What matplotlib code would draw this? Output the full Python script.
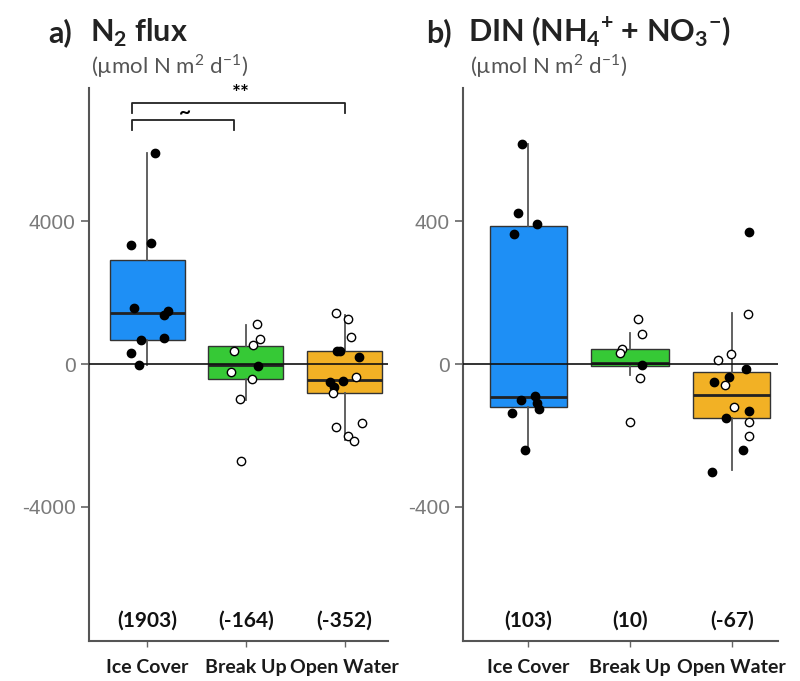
import matplotlib
matplotlib.use("Agg")
import matplotlib.pyplot as plt
import matplotlib.transforms as mtransforms

plt.rcParams["font.family"] = ["Lato", "DejaVu Sans"]
plt.rcParams["mathtext.fontset"] = "custom"
plt.rcParams["mathtext.rm"] = "Lato"
plt.rcParams["mathtext.bf"] = "Lato:bold"

CATEGORIES = ["Ice Cover", "Break Up", "Open Water"]
BOX_COLORS = ["#1E8FF5", "#36C936", "#F2B125"]

# ---- panel a: N2 flux ----
N2_Q1 = [670, -420, -810]
N2_MED = [1430, -30, -450]
N2_Q3 = [2910, 500, 365]
N2_WLO = [-30, -1000, -2130]
N2_WHI = [5900, 1090, 1370]
N2_MEANS = ["(1903)", "(-164)", "(-352)"]
N2_PTS = [
    [5900, 3330, 3385, 1566, 1482, 1370, 671, 727, 308, -28],
    [1119, 699, 531, 363, -224, -56, -420, -979, -2713],
    [1426, 1258, 755, 364, 364, 196, -363, -503, -475, -643, -811, -1762, -1650, -2013, -2153],
]
N2_JIT = [
    [0.08, -0.16, 0.04, -0.13, 0.21, 0.17, -0.06, 0.17, -0.16, -0.08],
    [0.11, 0.14, 0.07, -0.12, -0.15, 0.12, 0.06, -0.06, -0.05],
    [-0.09, 0.03, 0.07, -0.08, -0.05, 0.15, 0.12, -0.15, -0.02, -0.11, -0.12, -0.09, 0.18, 0.03, 0.10],
]
N2_FILLED = [
    [1] * 10,
    [0, 0, 0, 0, 0, 1, 0, 0, 0],
    [0, 0, 0, 1, 1, 1, 0, 1, 1, 1, 0, 0, 0, 0, 0],
]

# ---- panel b: DIN ----
DIN_Q1 = [-120, -6, -151]
DIN_MED = [-92, 3, -87]
DIN_Q3 = [386, 42, -22]
DIN_WLO = [-240, -31, -296]
DIN_WHI = [615, 87, 143]
DIN_MEANS = ["(103)", "(10)", "(-67)"]
DIN_PTS = [
    [615, 422, 392, 364, -101, -89, -109, -126, -137, -240],
    [126, 84, 42, 31, -3, -39, -162],
    [369, 140, 28, 11, -14, -36, -50, -59, -120, -131, -151, -162, -201, -240, -302],
]
DIN_JIT = [
    [-0.06, -0.10, 0.09, -0.14, -0.07, 0.07, 0.09, 0.11, -0.16, -0.03],
    [0.08, 0.12, -0.08, -0.10, 0.12, 0.10, 0.00],
    [0.17, 0.16, -0.01, -0.13, 0.14, -0.03, -0.17, -0.07, 0.02, 0.17, -0.06, 0.17, 0.17, 0.11, -0.19],
]
DIN_FILLED = [
    [1] * 10,
    [0, 0, 0, 0, 1, 0, 0],
    [1, 0, 0, 0, 1, 1, 1, 0, 0, 1, 1, 0, 0, 1, 1],
]


def draw_panel(ax, q1, med, q3, wlo, whi, pts, jit, filled, means, ylim, yticks, xlim):
    stats = [dict(q1=a, med=b, q3=c, whislo=d, whishi=e, fliers=[])
             for a, b, c, d, e in zip(q1, med, q3, wlo, whi)]
    bp = ax.bxp(stats, positions=[1, 2, 3], widths=0.76, patch_artist=True,
                showfliers=False, showcaps=False,
                boxprops=dict(edgecolor="#333333", linewidth=1.0),
                medianprops=dict(color="#222222", linewidth=2.0),
                whiskerprops=dict(color="#555555", linewidth=1.3))
    for patch, col in zip(bp["boxes"], BOX_COLORS):
        patch.set_facecolor(col)
    ax.axhline(0, color="#111111", linewidth=1.2, zorder=3)
    for i in range(3):
        for y, j, f in zip(pts[i], jit[i], filled[i]):
            ax.scatter(i + 1 + j, y, s=36, zorder=4,
                       facecolor="black" if f else "white",
                       edgecolor="black", linewidth=1.0)
    tr = mtransforms.blended_transform_factory(ax.transData, ax.transAxes)
    for i, m in enumerate(means):
        ax.text(i + 1, 0.036, m, transform=tr, ha="center", va="center",
                fontsize=15, fontweight="bold", color="#111111")
    ax.set_xlim(*xlim)
    ax.set_ylim(*ylim)
    ax.set_yticks(yticks)
    ax.set_yticklabels([str(t) for t in yticks], family="Liberation Sans")
    ax.set_xticks([1, 2, 3])
    ax.set_xticklabels(CATEGORIES, fontsize=14, fontweight="bold", color="#1a1a1a")
    ax.tick_params(axis="y", labelsize=15, labelcolor="#7a7a7a", color="#666666",
                   length=6, width=1.2)
    ax.tick_params(axis="x", color="#666666", length=4, width=1.0, pad=9)
    for s in ["top", "right"]:
        ax.spines[s].set_visible(False)
    for s in ["left", "bottom"]:
        ax.spines[s].set_color("#555555")
        ax.spines[s].set_linewidth(1.5)


fig = plt.figure(figsize=(8.0, 6.81), dpi=100)
ax1 = fig.add_axes([0.111, 0.0587, 0.374, 0.812])
ax2 = fig.add_axes([0.579, 0.0587, 0.394, 0.812])

draw_panel(ax1, N2_Q1, N2_MED, N2_Q3, N2_WLO, N2_WHI, N2_PTS, N2_JIT, N2_FILLED,
           N2_MEANS, (-7750, 7720), [-4000, 0, 4000], (0.41, 3.44))
draw_panel(ax2, DIN_Q1, DIN_MED, DIN_Q3, DIN_WLO, DIN_WHI, DIN_PTS, DIN_JIT, DIN_FILLED,
           DIN_MEANS, (-775, 772), [-400, 0, 400], (0.36, 3.46))

# significance brackets on panel a
ax1.plot([0.85, 0.85, 3.0, 3.0], [7020, 7300, 7300, 7020], color="#222222",
         linewidth=1.3, clip_on=False)
ax1.text(1.95, 7560, "**", ha="center", va="center", fontsize=15, fontweight="bold")
ax1.plot([0.85, 0.85, 1.88, 1.88], [6545, 6825, 6825, 6545], color="#222222",
         linewidth=1.3, clip_on=False)
ax1.text(1.38, 7020, "~", ha="center", va="center", fontsize=15, fontweight="bold")

# titles
TITLE_Y = 0.938
SUB_Y = 0.892
SUBTITLE = r"(µmol N m$^{2}$ d$^{-1}$)"
fig.text(0.060, TITLE_Y, "a)", ha="left", va="baseline", fontsize=22, fontweight="bold",
         color="#222222")
fig.text(0.112, TITLE_Y, r"N$_\mathbf{2}$ flux", ha="left", va="baseline",
         fontsize=22, fontweight="bold", color="#222222")
fig.text(0.114, SUB_Y, SUBTITLE, ha="left", va="baseline",
         fontsize=16, color="#555555")
fig.text(0.533, TITLE_Y, "b)", ha="left", va="baseline", fontsize=22, fontweight="bold",
         color="#222222")
fig.text(0.585, TITLE_Y,
         r"DIN (NH$_\mathbf{4}$$^\mathbf{+}$ + NO$_\mathbf{3}$$^\mathbf{-}$)",
         ha="left", va="baseline", fontsize=22, fontweight="bold", color="#222222")
fig.text(0.587, SUB_Y, SUBTITLE, ha="left", va="baseline",
         fontsize=16, color="#555555")

fig.savefig("out.png", dpi=100, facecolor="white")
